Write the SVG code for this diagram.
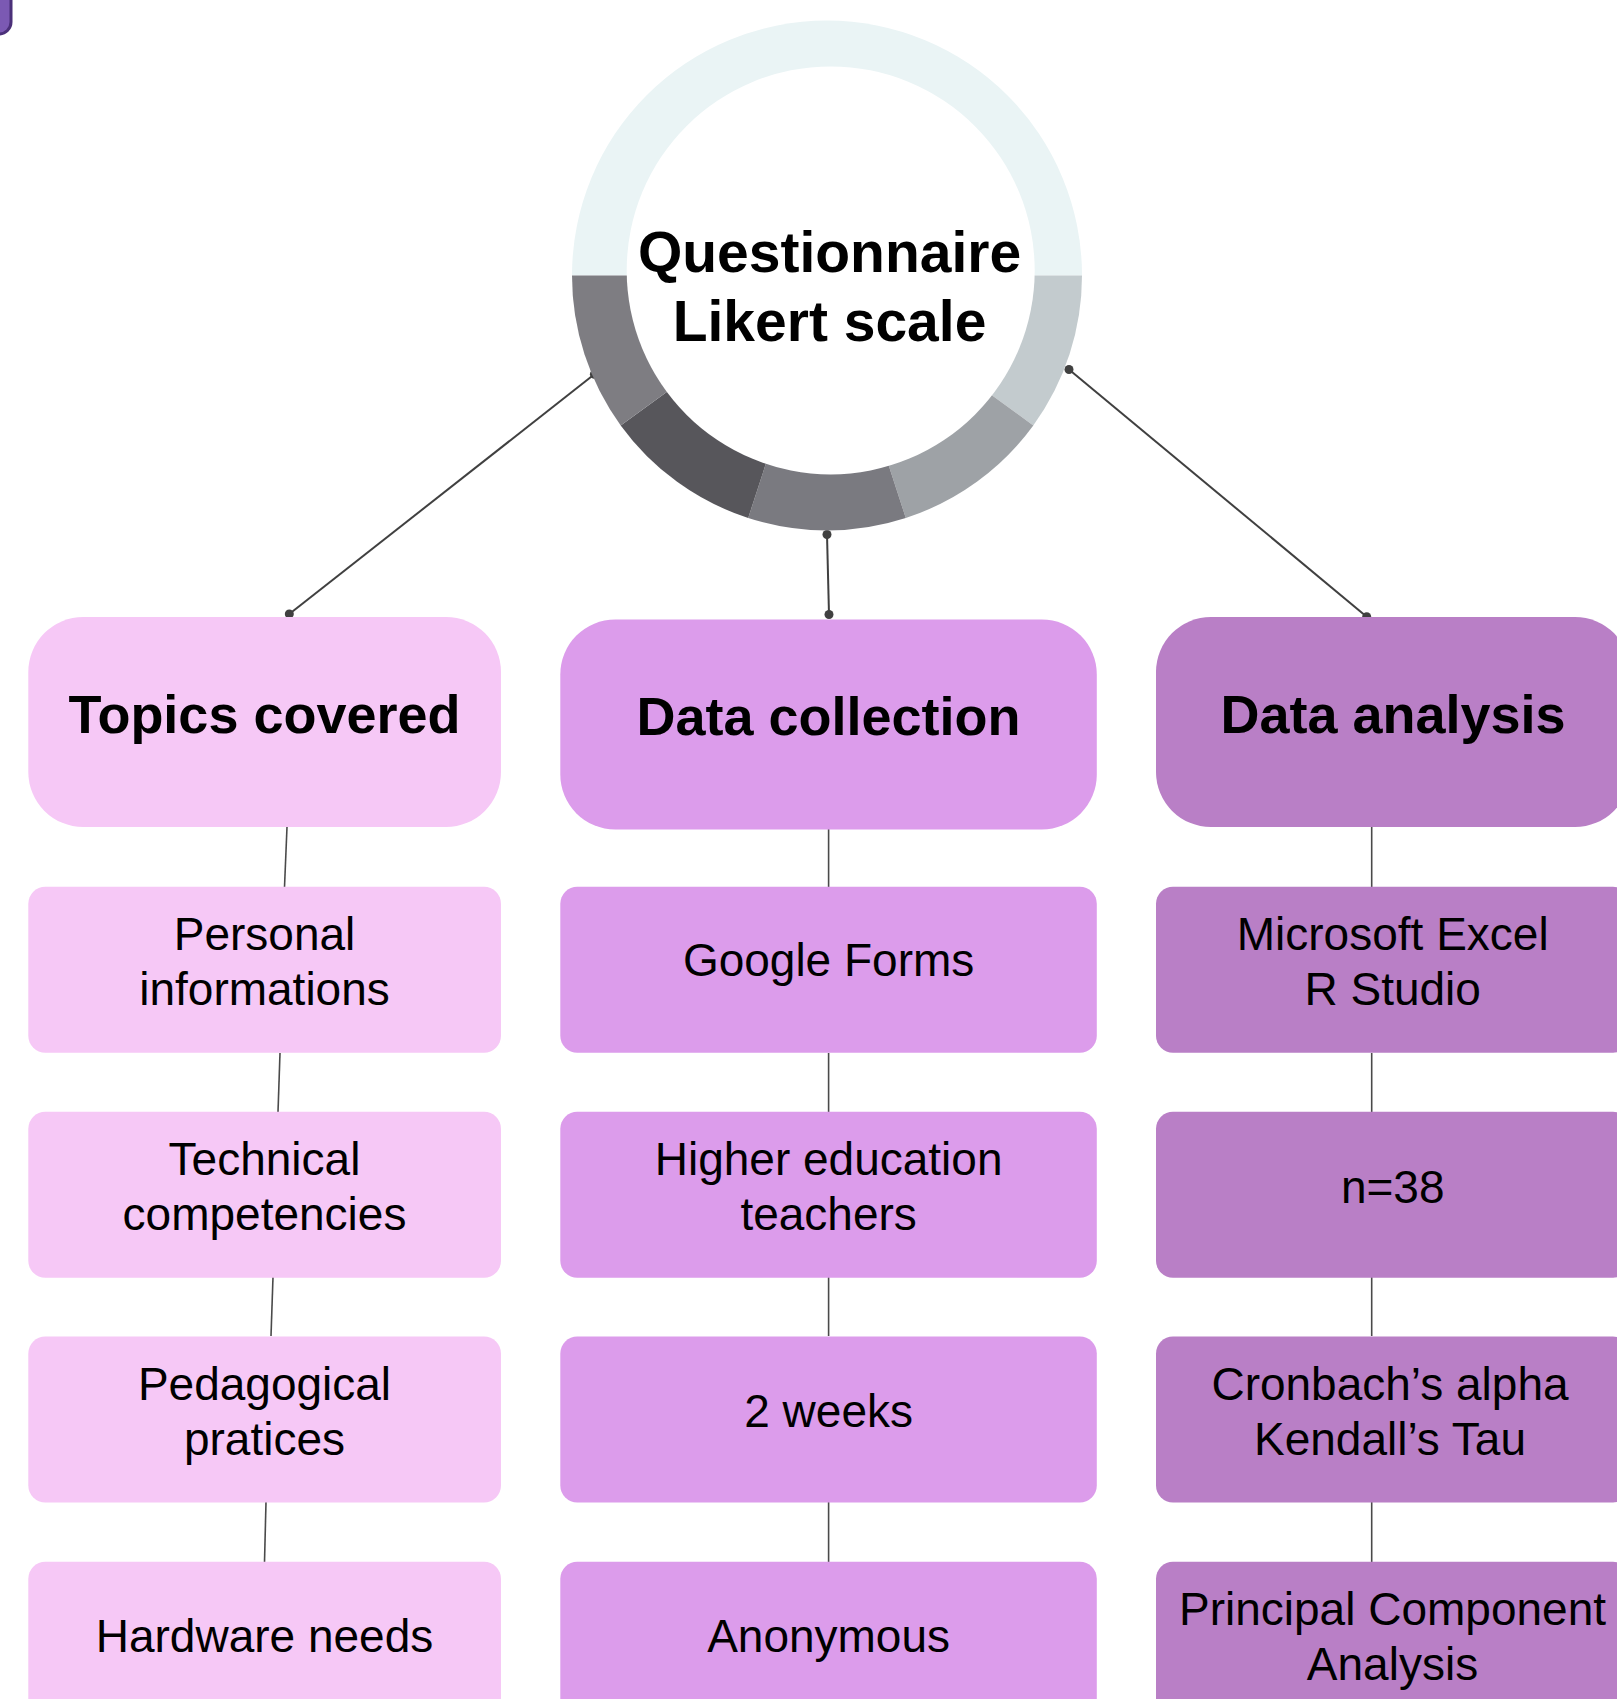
<svg xmlns="http://www.w3.org/2000/svg" width="1617" height="1699" viewBox="0 0 1617 1699">
<style>
.t{font-family:"Liberation Sans",Arial,sans-serif;fill:#000;text-anchor:middle}
.h{font-size:54px;font-weight:bold}
.b{font-size:46px}
.q{font-size:57px;font-weight:bold}
.c1{fill:#f6c8f6}
.c2{fill:#dc9ceb}
.c3{fill:#b97fc6}
.ln{stroke:#404040;stroke-width:2;fill:none}
.lv{stroke:#4a4a4a;stroke-width:1.6;fill:none}
.dot{fill:#404040}
</style>
<rect width="1617" height="1699" fill="#ffffff"/>
<g id="corner-shape">
<rect x="-40" y="-40" width="51" height="74" rx="12" fill="#7b59b3" stroke="#4b3079" stroke-width="3"/>
</g>
<g id="connectors">
<line class="ln" x1="594.4" y1="374.3" x2="289.3" y2="614"/>
<line class="ln" x1="1069" y1="369.5" x2="1366.7" y2="616.7"/>
<line class="ln" x1="827" y1="534.5" x2="829" y2="614.5"/>
<circle class="dot" cx="594.4" cy="374.3" r="4.5"/>
<circle class="dot" cx="289.3" cy="614" r="4.5"/>
<circle class="dot" cx="1069" cy="369.5" r="4.5"/>
<circle class="dot" cx="1366.7" cy="616.7" r="4.5"/>
<circle class="dot" cx="827" cy="534.5" r="4.5"/>
<circle class="dot" cx="829" cy="614.5" r="4.5"/>
<line class="lv" x1="287" y1="827" x2="284.5" y2="887"/>
<line class="lv" x1="280" y1="1053" x2="278" y2="1112"/>
<line class="lv" x1="273" y1="1277" x2="271" y2="1336"/>
<line class="lv" x1="266" y1="1502" x2="264.5" y2="1562"/>
<line class="lv" x1="828.6" y1="829" x2="828.6" y2="887"/>
<line class="lv" x1="828.6" y1="1053" x2="828.6" y2="1112"/>
<line class="lv" x1="828.6" y1="1277" x2="828.6" y2="1336"/>
<line class="lv" x1="828.6" y1="1502" x2="828.6" y2="1562"/>
<line class="lv" x1="1371.7" y1="827" x2="1371.7" y2="887"/>
<line class="lv" x1="1371.7" y1="1053" x2="1371.7" y2="1112"/>
<line class="lv" x1="1371.7" y1="1277" x2="1371.7" y2="1336"/>
<line class="lv" x1="1371.7" y1="1502" x2="1371.7" y2="1562"/>
</g>
<g id="questionnaire">
<path d="M572 275.5 A255 255 0 0 1 1082 275.5 Z" fill="#eaf4f5"/>
<path d="M827 275.5 L1082 275.5 A255 255 0 0 1 1033.3 425.4 Z" fill="#c3cbce"/>
<path d="M827 275.5 L1033.3 425.4 A255 255 0 0 1 905.8 518 Z" fill="#9ea2a6"/>
<path d="M827 275.5 L905.8 518 A255 255 0 0 1 748.2 518 Z" fill="#7a7a80"/>
<path d="M827 275.5 L748.2 518 A255 255 0 0 1 620.7 425.4 Z" fill="#57565b"/>
<path d="M827 275.5 L620.7 425.4 A255 255 0 0 1 572 275.5 Z" fill="#7e7d82"/>
<circle cx="830.7" cy="270.4" r="204" fill="#ffffff"/>
<text class="t q" x="829.5" y="272">Questionnaire</text>
<text class="t q" x="829.5" y="341">Likert scale</text>
</g>
<g id="topics-covered">
<rect class="c1" x="28.3" y="617" width="472.7" height="210" rx="55"/>
<text class="t h" x="264.5" y="733.3">Topics covered</text>
</g>
<g id="data-collection">
<rect class="c2" x="560.3" y="619.5" width="536.5" height="210" rx="55"/>
<text class="t h" x="828.5" y="734.5">Data collection</text>
</g>
<g id="data-analysis">
<rect class="c3" x="1156" y="617" width="474" height="210" rx="55"/>
<text class="t h" x="1393" y="733.3">Data analysis</text>
</g>
<g id="personal-informations">
<rect class="c1" x="28.3" y="886.7" width="472.7" height="166" rx="17"/>
<text class="t b" x="264.5" y="949.5">Personal</text>
<text class="t b" x="264.5" y="1004.5">informations</text>
</g>
<g id="technical-competencies">
<rect class="c1" x="28.3" y="1111.7" width="472.7" height="166" rx="17"/>
<text class="t b" x="264.5" y="1175">Technical</text>
<text class="t b" x="264.5" y="1230">competencies</text>
</g>
<g id="pedagogical-pratices">
<rect class="c1" x="28.3" y="1336.5" width="472.7" height="166" rx="17"/>
<text class="t b" x="264.5" y="1400">Pedagogical</text>
<text class="t b" x="264.5" y="1455">pratices</text>
</g>
<g id="hardware-needs">
<rect class="c1" x="28.3" y="1561.7" width="472.7" height="166" rx="17"/>
<text class="t b" x="264.5" y="1651.7">Hardware needs</text>
</g>
<g id="google-forms">
<rect class="c2" x="560.3" y="886.7" width="536.5" height="166" rx="17"/>
<text class="t b" x="828.6" y="976">Google Forms</text>
</g>
<g id="higher-education-teachers">
<rect class="c2" x="560.3" y="1111.7" width="536.5" height="166" rx="17"/>
<text class="t b" x="828.6" y="1175">Higher education</text>
<text class="t b" x="828.6" y="1230">teachers</text>
</g>
<g id="two-weeks">
<rect class="c2" x="560.3" y="1336.5" width="536.5" height="166" rx="17"/>
<text class="t b" x="828.6" y="1426.7">2 weeks</text>
</g>
<g id="anonymous">
<rect class="c2" x="560.3" y="1561.7" width="536.5" height="166" rx="17"/>
<text class="t b" x="828.6" y="1651.7">Anonymous</text>
</g>
<g id="excel-rstudio">
<rect class="c3" x="1156" y="886.7" width="474" height="166" rx="17"/>
<text class="t b" x="1392.7" y="949.5">Microsoft Excel</text>
<text class="t b" x="1392.7" y="1004.5">R Studio</text>
</g>
<g id="n38">
<rect class="c3" x="1156" y="1111.7" width="474" height="166" rx="17"/>
<text class="t b" x="1392.7" y="1203.3">n=38</text>
</g>
<g id="cronbach-kendall">
<rect class="c3" x="1156" y="1336.5" width="474" height="166" rx="17"/>
<text class="t b" x="1390" y="1400">Cronbach’s alpha</text>
<text class="t b" x="1390" y="1455">Kendall’s Tau</text>
</g>
<g id="pca">
<rect class="c3" x="1156" y="1561.7" width="474" height="166" rx="17"/>
<text class="t b" x="1392.5" y="1625">Principal Component</text>
<text class="t b" x="1392.5" y="1680">Analysis</text>
</g>
</svg>
